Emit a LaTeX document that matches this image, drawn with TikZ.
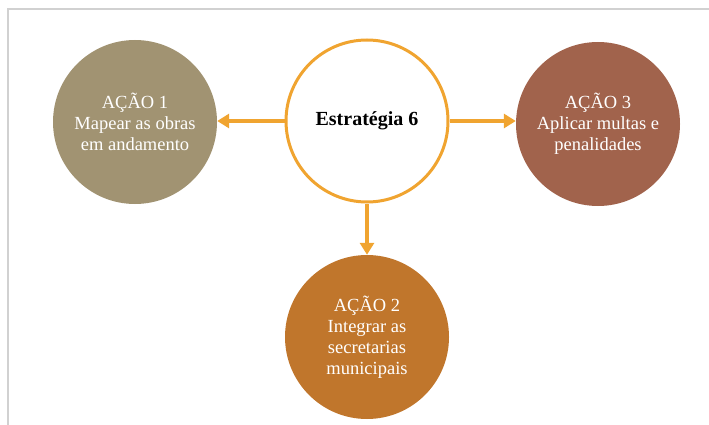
\documentclass[tikz,border=0pt]{standalone}
\usepackage{fontspec}
\setmainfont{Liberation Serif}
\usetikzlibrary{arrows.meta}

\begin{document}
\begin{tikzpicture}[x=1pt,y=-1pt,
  acao/.style={circle,minimum size=164pt,inner sep=0pt,align=center,
    text=white,font=\fontsize{18.5}{21}\selectfont},
  liga/.style={draw=dialinecolor,line width=3.5pt,-{Triangle[length=12pt,width=14pt]}}]
\definecolor{dialinecolor}{rgb}{0.941176, 0.643137, 0.188235}
\definecolor{framecolor}{rgb}{0.819608, 0.819608, 0.819608}
\definecolor{acaoumcolor}{rgb}{0.631373, 0.576471, 0.447059}
\definecolor{acaodoiscolor}{rgb}{0.752941, 0.462745, 0.172549}
\definecolor{acaotrescolor}{rgb}{0.631373, 0.388235, 0.298039}
\useasboundingbox (0,0) rectangle (709,425);
% moldura
\draw[framecolor,line width=2pt] (8,425)--(8,9)--(709,9);
% circulos
\node[circle,minimum size=162pt,inner sep=0pt,draw=dialinecolor,line width=3pt,fill=white,
  font=\fontsize{20}{22}\selectfont\bfseries] (estrategia) at (367,121) {Estratégia 6};
\node[acao,fill=acaoumcolor] (acaoum) at (135,122) {AÇÃO 1\\Mapear as obras\\em andamento};
\node[acao,fill=acaodoiscolor] (acaodois) at (367,337) {AÇÃO 2\\Integrar as\\secretarias\\municipais};
\node[acao,fill=acaotrescolor] (acaotres) at (598,124) {AÇÃO 3\\Aplicar multas e\\penalidades};
% setas
\draw[liga] (estrategia.west) -- (estrategia.west -| acaoum.east);
\draw[liga] (estrategia.east) -- (estrategia.east -| acaotres.west);
\draw[liga] (estrategia.south) -- (acaodois.north);
\end{tikzpicture}
\end{document}
